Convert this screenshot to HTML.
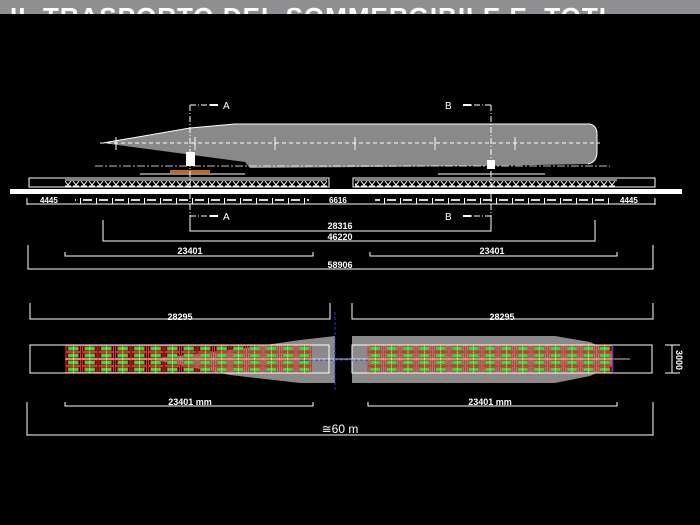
<!DOCTYPE html>
<html><head><meta charset="utf-8"><style>
html,body{margin:0;padding:0;background:#000;width:700px;height:525px;overflow:hidden}
svg{display:block}
text{font-family:"Liberation Sans",sans-serif;fill:#fff}
</style></head><body>
<svg width="700" height="525" viewBox="0 0 700 525" xmlns="http://www.w3.org/2000/svg">
<defs>
<pattern id="cell" x="65" y="345" width="16.5" height="7" patternUnits="userSpaceOnUse">
<rect x="1" y="0.5" width="14.5" height="6" fill="none" stroke="#e03030" stroke-width="1"/>
<rect x="3" y="1.5" width="10.5" height="4" fill="#33dd33" stroke="#9a3a1a" stroke-width="0.6"/>
<line x1="8.3" y1="0" x2="8.3" y2="7" stroke="#fff" stroke-width="0.6" stroke-dasharray="1.5,1"/>
</pattern>
<pattern id="cell2" x="367" y="345" width="16.4" height="7" patternUnits="userSpaceOnUse">
<rect x="1" y="0.5" width="14.4" height="6" fill="none" stroke="#e03030" stroke-width="1"/>
<rect x="3" y="1.5" width="10.4" height="4" fill="#33dd33" stroke="#9a3a1a" stroke-width="0.6"/>
<line x1="8.2" y1="0" x2="8.2" y2="7" stroke="#fff" stroke-width="0.6" stroke-dasharray="1.5,1"/>
</pattern>
<pattern id="trl" x="0" y="178" width="8" height="10" patternUnits="userSpaceOnUse">
<line x1="0" y1="2" x2="8" y2="2" stroke="#fff" stroke-width="1"/>
<path d="M1,3 L4,7 L7,3 M4,7 L4,9 M1,8 L7,8" stroke="#fff" stroke-width="1" fill="none"/>
</pattern>
<pattern id="ticks" x="0" y="198" width="16" height="6" patternUnits="userSpaceOnUse">
<line x1="0.5" y1="0" x2="0.5" y2="6" stroke="#fff"/>
<rect x="3" y="1" width="9" height="2" fill="#fff" opacity="0.85"/>
</pattern>
</defs>
<rect x="0" y="0" width="700" height="14" fill="#8f8e90"/>
<svg x="0" y="0" width="700" height="14"><text x="10" y="26" font-size="26" font-weight="bold" fill="#fff" letter-spacing="1">IL TRASPORTO DEL SOMMERGIBILE E. TOTI</text></svg>

<path d="M103,143 L190,128 L235,124 L590,124 Q597,126 597,134 L597,152 Q597,162 588,164 L480,166 L250,168 L245,162 Z" fill="#898989"/>
<path d="M103,143 L190,128 L235,124 L590,124 Q597,126 597,134 L597,152 Q597,162 588,164" fill="none" stroke="#fff" stroke-width="1"/>
<line x1="100" y1="143" x2="600" y2="143" stroke="#fff" stroke-width="1" stroke-dasharray="4,3"/>
<g stroke="#fff" stroke-width="1">
<line x1="116" y1="137" x2="116" y2="150"/><line x1="195" y1="137" x2="195" y2="150"/><line x1="275" y1="137" x2="275" y2="150"/>
<line x1="355" y1="137" x2="355" y2="150"/><line x1="435" y1="137" x2="435" y2="150"/><line x1="515" y1="137" x2="515" y2="150"/>
</g>
<line x1="95" y1="166" x2="610" y2="166" stroke="#fff" stroke-width="0.8" stroke-dasharray="8,2,2,2"/>
<rect x="186" y="152" width="9" height="14" fill="#fff"/>
<rect x="487" y="160" width="8" height="9" fill="#fff"/>
<rect x="170" y="170" width="40" height="3" fill="#c8641e"/>
<line x1="140" y1="174" x2="245" y2="174" stroke="#fff"/>
<line x1="438" y1="174" x2="545" y2="174" stroke="#fff"/>
<rect x="29" y="178" width="300" height="9" fill="none" stroke="#fff"/>
<rect x="353" y="178" width="302" height="9" fill="none" stroke="#fff"/>
<rect x="65" y="178" width="262" height="10" fill="url(#trl)"/>
<rect x="355" y="178" width="262" height="10" fill="url(#trl)"/>
<rect x="10" y="189" width="672" height="5" fill="#fff"/>
<line x1="27" y1="204" x2="655" y2="204" stroke="#fff"/>
<g stroke="#fff"><line x1="27" y1="198" x2="27" y2="205"/><line x1="655" y1="198" x2="655" y2="205"/></g>
<rect x="75" y="198" width="234" height="6" fill="url(#ticks)"/>
<rect x="375" y="198" width="234" height="6" fill="url(#ticks)"/>
<text x="40" y="203" font-size="8" font-weight="bold">4445</text>
<text x="329" y="203" font-size="8" font-weight="bold">6616</text>
<text x="620" y="203" font-size="8" font-weight="bold">4445</text>
<g stroke="#fff" stroke-width="1" stroke-dasharray="6,2,1,2" fill="none">
<line x1="190" y1="105" x2="190" y2="231"/><line x1="190" y1="105" x2="210" y2="105"/><line x1="190" y1="216" x2="210" y2="216"/>
<line x1="491" y1="105" x2="491" y2="231"/><line x1="491" y1="105" x2="470" y2="105"/><line x1="491" y1="216" x2="470" y2="216"/>
</g>
<g fill="#fff"><rect x="210" y="104" width="8" height="2"/><rect x="210" y="215" width="8" height="2"/><rect x="463" y="104" width="8" height="2"/><rect x="463" y="215" width="8" height="2"/></g>
<text x="223" y="109" font-size="10">A</text><text x="223" y="220" font-size="10">A</text>
<text x="445" y="109" font-size="10">B</text><text x="445" y="220" font-size="10">B</text>
<g stroke="#fff" fill="none" stroke-width="1">
<polyline points="190,221 190,231 491,231 491,221"/>
<polyline points="103,220 103,241 595,241 595,220"/>
<polyline points="65,252 65,256 313,256 313,252"/>
<polyline points="370,252 370,256 617,256 617,252"/>
<polyline points="28,245 28,269 653,269 653,245"/>
<polyline points="30,303 30,319 330,319 330,303"/>
<polyline points="352,303 352,319 653,319 653,303"/>
<polyline points="65,402 65,406 313,406 313,402"/>
<polyline points="368,402 368,406 617,406 617,402"/>
<polyline points="27,402 27,435 653,435 653,402"/>
<path d="M665,345 L680,345 M665,373 L680,373"/>
</g>
<line x1="672" y1="345" x2="672" y2="373" stroke="#fff"/>
<g font-size="9" text-anchor="middle" font-weight="bold">
<text x="340" y="229">28316</text><text x="340" y="240">46220</text>
<text x="190" y="254">23401</text><text x="492" y="254">23401</text>
<text x="340" y="268">58906</text>
<text x="180" y="320">28295</text><text x="502" y="320">28295</text>
<text x="190" y="405">23401 mm</text><text x="490" y="405">23401 mm</text>
</g>
<text x="340" y="433" font-size="12" text-anchor="middle">≅60 m</text>
<text x="0" y="0" font-size="9" font-weight="bold" transform="translate(676,350) rotate(90)">3000</text>
<rect x="65" y="345" width="248" height="28" fill="#3a0000"/>
<rect x="367" y="345" width="246" height="28" fill="#3a0000"/>
<path d="M150,359 L230,350 L300,340 L335,336 L335,383 L300,383 L230,375 Z" fill="#8a8a8a"/>
<path d="M352,336 L555,336 L590,342 L612,352 L612,366 L590,376 L555,383 L352,383 Z" fill="#8a8a8a"/>
<rect x="65" y="345" width="248" height="28" fill="url(#cell)"/>
<rect x="367" y="345" width="246" height="28" fill="url(#cell2)"/>
<rect x="30" y="345" width="299" height="28" fill="none" stroke="#fff"/>
<rect x="352" y="345" width="300" height="28" fill="none" stroke="#fff"/>
<line x1="65" y1="359" x2="630" y2="359" stroke="#fff" stroke-width="0.8"/>
<line x1="300" y1="360" x2="370" y2="360" stroke="#2233dd" stroke-dasharray="3,2"/>
<line x1="335" y1="312" x2="335" y2="390" stroke="#2233dd" stroke-dasharray="3,2"/>
<line x1="613" y1="345" x2="613" y2="373" stroke="#2233dd"/>
</svg>
</body></html>
